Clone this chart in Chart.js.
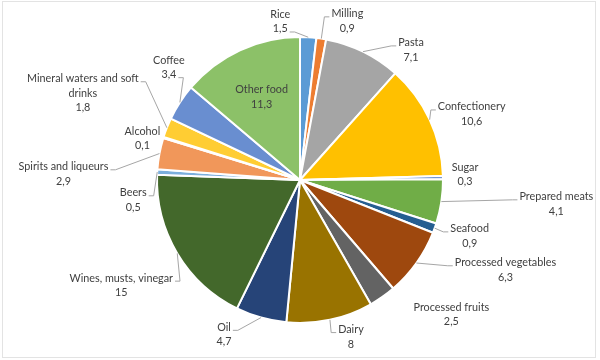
<!DOCTYPE html>
<html>
<head>
<meta charset="utf-8">
<script src="https://cdn.jsdelivr.net/npm/chart.js@4/dist/chart.umd.min.js"></script>
<style>
  html, body { margin: 0; padding: 0; background: #ffffff; }
  canvas { display: block; }
</style>
</head>
<body>
<canvas id="c" width="600" height="360"></canvas>
<script>
// ---- data ----
const categories = [
  "Rice", "Milling", "Pasta", "Confectionery", "Sugar", "Prepared meats",
  "Seafood", "Processed vegetables", "Processed fruits", "Dairy", "Oil",
  "Wines, musts, vinegar", "Beers", "Spirits and liqueurs", "Alcohol",
  "Mineral waters and soft drinks", "Coffee", "Other food"
];
const values = [1.5, 0.9, 7.1, 10.6, 0.3, 4.1, 0.9, 6.3, 2.5, 8, 4.7, 15, 0.5, 2.9, 0.1, 1.8, 3.4, 11.3];
const sliceColors = [
  "#5B9BD5", "#ED7D31", "#A5A5A5", "#FFC000", "#4472C4", "#70AD47",
  "#255E91", "#9E480E", "#636363", "#997300", "#264478", "#43682B",
  "#7CAFDD", "#F1975A", "#B7B7B7", "#FFCD33", "#698ED0", "#8CC168"
];

// ---- label layout: offset of label block centre from slice outer edge at mid-angle, leader spec ----
const labelLayout = [
  { dx: -28, dy: -15.5, leader: "r1" },
  { dx: 26,  dy: -17.5, leader: "l0" },
  { dx: 48,  dy: -1.5,  leader: "l0" },
  { dx: 42,  dy: -5.5,  leader: "l0" },
  { dx: 22,  dy: -3,    leader: "" },
  { dx: 115, dy: 2.5,   leader: "l0" },
  { dx: 35,  dy: 8,     leader: "l0" },
  { dx: 89,  dy: 7,     leader: "l0" },
  { dx: 69,  dy: 17.5,  leader: "" },
  { dx: 21,  dy: 17,    leader: "l0" },
  { dx: -37, dy: 17,    leader: "r0" },
  { dx: -56, dy: 32,    leader: "r0" },
  { dx: -24, dy: 28,    leader: "r0" },
  { dx: -96, dy: 20.5,  leader: "r0" },
  { dx: -21, dy: 1,     leader: "" },
  { dx: -84, dy: -34.5, leader: "r0" },
  { dx: -11, dy: -35,   leader: "r1" },
  { inside: 0.64 }
];

const FONT = "10.8px Lato, 'Open Sans', sans-serif";
const LINE_H = 14.5;
const WRAP_W = 112;

function fmt(v) { return String(v).replace(".", ","); }

function wrapText(ctx, text, maxW) {
  const words = text.split(" ");
  const lines = [];
  let cur = "";
  for (const w of words) {
    const t = cur ? cur + " " + w : w;
    if (cur && ctx.measureText(t).width > maxW) { lines.push(cur); cur = w; }
    else cur = t;
  }
  if (cur) lines.push(cur);
  return lines;
}

const framePlugin = {
  id: "frame",
  beforeDraw(chart) {
    const ctx = chart.ctx;
    ctx.save();
    ctx.fillStyle = "#ffffff";
    ctx.fillRect(0, 0, chart.width, chart.height);
    ctx.strokeStyle = "#e3e3e3";
    ctx.lineWidth = 1;
    ctx.strokeRect(2.5, 1.5, 593, 356);
    ctx.restore();
  }
};

const labelPlugin = {
  id: "sliceLabels",
  afterDatasetsDraw(chart) {
    const ctx = chart.ctx;
    const meta = chart.getDatasetMeta(0);
    ctx.save();
    ctx.font = FONT;
    ctx.textAlign = "center";
    ctx.textBaseline = "middle";
    meta.data.forEach((arc, i) => {
      const p = arc.getProps(["x", "y", "startAngle", "endAngle", "outerRadius"], true);
      const mid = (p.startAngle + p.endAngle) / 2;
      const lay = labelLayout[i];
      const lines = wrapText(ctx, categories[i], WRAP_W);
      lines.push(fmt(values[i]));
      let cx, cy;
      if (lay.inside) {
        cx = p.x + Math.cos(mid) * p.outerRadius * lay.inside;
        cy = p.y + Math.sin(mid) * p.outerRadius * lay.inside;
      } else {
        const ex = p.x + Math.cos(mid) * p.outerRadius;
        const ey = p.y + Math.sin(mid) * p.outerRadius;
        cx = ex + lay.dx;
        cy = ey + lay.dy;
        if (lay.leader) {
          const side = lay.leader[0];
          const li = parseInt(lay.leader.slice(1), 10);
          const ly = cy - (lines.length - 1) * LINE_H / 2 + li * LINE_H;
          const w = ctx.measureText(lines[li]).width;
          let ax = side === "l" ? cx - w / 2 - 2 : cx + w / 2 + 2;
          const bx = side === "l" ? ax - 5 : ax + 5;
          ctx.strokeStyle = "#A6A6A6";
          ctx.lineWidth = 1;
          ctx.beginPath();
          ctx.moveTo(ax, ly + 3);
          ctx.lineTo(bx, ly + 3);
          ctx.lineTo(ex, ey);
          ctx.stroke();
        }
      }
      ctx.fillStyle = "#404040";
      const top = cy - (lines.length - 1) * LINE_H / 2;
      lines.forEach((ln, k) => ctx.fillText(ln, cx, top + k * LINE_H));
    });
    ctx.restore();
  }
};

new Chart(document.getElementById("c"), {
  type: "pie",
  data: {
    labels: categories,
    datasets: [{
      data: values,
      backgroundColor: sliceColors,
      borderColor: "#ffffff",
      borderWidth: 2
    }]
  },
  options: {
    responsive: false,
    animation: false,
    layout: { padding: { top: 36, bottom: 36, left: 0, right: 0 } },
    plugins: {
      legend: { display: false },
      tooltip: { enabled: false }
    }
  },
  plugins: [framePlugin, labelPlugin]
});
</script>
</body>
</html>
